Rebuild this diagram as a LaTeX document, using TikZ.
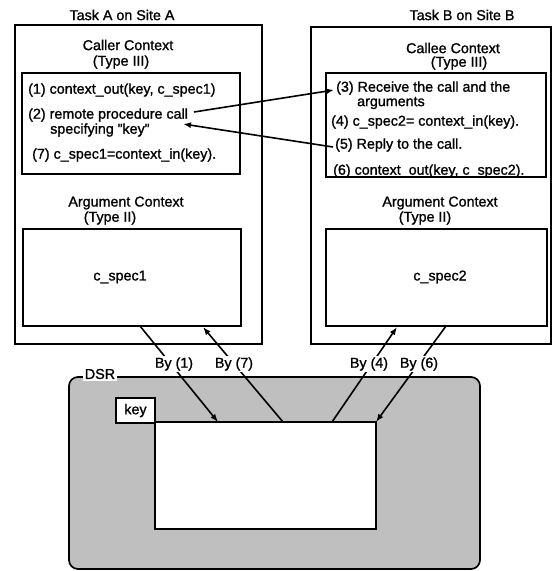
\documentclass[tikz,border=0pt]{standalone}
\usepackage{fontspec}
\setmainfont{Liberation Sans}[BoldFont=Liberation Sans, BoldFeatures={FakeBold=1.2}]
\usetikzlibrary{arrows.meta}
\begin{document}
\begin{tikzpicture}[x=1pt,y=-1pt,
  font=\fontsize{14.3}{16}\selectfont\bfseries,
  box/.style={draw, line width=1.7pt, anchor=north west, inner sep=0pt, outer sep=0pt},
  txt/.style={inner sep=0pt, anchor=west},
  ctr/.style={inner sep=0pt},
  conn/.style={line width=1.6pt, -{Latex[length=8pt,width=6pt]}},
  bylab/.style={fill=white, inner sep=1.2pt}]
\useasboundingbox (0,0) rectangle (553,571);
% outer task boxes
\node[box, minimum width=247pt, minimum height=319pt] (taskA) at (15,25) {};
\node[box, minimum width=240pt, minimum height=317pt] (taskB) at (311,27) {};
\node[ctr] (taskAt) at (122,15) {Task A on Site A};
\node[ctr] (taskBt) at (462,15) {Task B on Site B};
% caller context
\node[ctr] (callerT) at (128,45) {Caller Context};
\node[ctr] (callerTy) at (121,62) {(Type III)};
\node[box, minimum width=218pt, minimum height=101pt] (caller) at (22,73) {};
\node[txt] (c1) at (28,90) {(1) context\_out(key, c\_spec1)};
\node[txt] (c2) at (28,115) {(2) remote procedure call};
\node[txt] (c2b) at (50,130) {specifying "key"};
\node[txt] (c7) at (32,155) {(7) c\_spec1=context\_in(key).};
% callee context
\node[ctr] (calleeT) at (453,48) {Callee Context};
\node[ctr] (calleeTy) at (459,63) {(Type III)};
\node[box, minimum width=220pt, minimum height=104pt] (callee) at (326,73) {};
\node[txt] (d3) at (336,88) {(3) Receive the call and the};
\node[txt] (d3b) at (357,103) {arguments};
\node[txt] (d4) at (331,122) {(4) c\_spec2= context\_in(key).};
\node[txt] (d5) at (335,145) {(5) Reply to the call.};
\node[txt] (d6) at (333,171) {(6) context\_out(key, c\_spec2).};
% argument contexts
\node[ctr] (argAT) at (126,203) {Argument Context};
\node[ctr] (argATy) at (110,218) {(Type II)};
\node[box, minimum width=218pt, minimum height=97pt] (argA) at (23,229) {};
\node[ctr] (cs1) at (120,277) {c\_spec1};
\node[ctr] (argBT) at (440,203) {Argument Context};
\node[ctr] (argBTy) at (425,218) {(Type II)};
\node[box, minimum width=221pt, minimum height=97pt] (argB) at (326,229) {};
\node[ctr] (cs2) at (440,277) {c\_spec2};
% DSR
\node[box, rounded corners=9pt, fill=black!25, minimum width=411pt, minimum height=192pt] (dsr) at (69,377) {};
\node[ctr, fill=white, inner sep=1.5pt] (dsrT) at (100,374) {DSR};
\node[box, fill=white, minimum width=39pt, minimum height=25pt] (key) at (116,398) {};
\node[ctr] (keyT) at (key.center) {key};
\node[box, fill=white, minimum width=221pt, minimum height=107pt] (store) at (155,422) {};
% RPC arrows
\coordinate (a1s) at (194,112);
\coordinate (a1e) at (334,90);
\coordinate (a2s) at (333,147);
\coordinate (a2e) at (183,124);
\draw[conn] (a1s) -- (a1e);
\draw[conn] (a2s) -- (a2e);
% DSR connectors
\coordinate (l1s) at (140,326);
\coordinate (l1e) at (218,422);
\coordinate (l7s) at (283,422);
\coordinate (l7e) at (203,327);
\coordinate (l4s) at (332,422);
\coordinate (l4e) at (397,327);
\coordinate (l6s) at (446,326);
\coordinate (l6e) at (376,422);
\draw[conn] (l1s) -- (l1e);
\draw[conn] (l7s) -- (l7e);
\draw[conn] (l4s) -- (l4e);
\draw[conn] (l6s) -- (l6e);
\node[bylab] (by1) at (174,364) {By (1)};
\node[bylab] (by7) at (234,364) {By (7)};
\node[bylab] (by4) at (369,364) {By (4)};
\node[bylab] (by6) at (419,364) {By (6)};
\end{tikzpicture}
\end{document}
